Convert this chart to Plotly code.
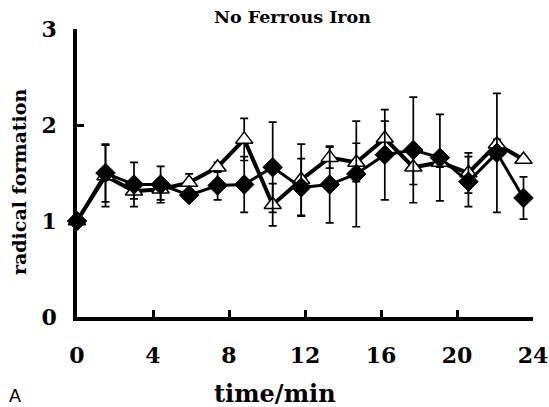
import plotly.graph_objects as go

time_min = [0, 1.5, 3.0, 4.4, 5.9, 7.4, 8.8, 10.3, 11.8, 13.3, 14.7, 16.2, 17.7, 19.1, 20.6, 22.1, 23.5]
diamond_vals = [1.00, 1.50, 1.38, 1.38, 1.27, 1.37, 1.38, 1.56, 1.35, 1.38, 1.49, 1.69, 1.74, 1.66, 1.41, 1.71, 1.24]
diamond_err = [0.00, 0.30, 0.23, 0.19, 0.05, 0.15, 0.29, 0.47, 0.30, 0.40, 0.55, 0.47, 0.55, 0.45, 0.26, 0.62, 0.22]
triangle_vals = [1.00, 1.47, 1.31, 1.33, 1.40, 1.56, 1.85, 1.17, 1.43, 1.66, 1.61, 1.86, 1.56, 1.61, 1.50, 1.80, 1.64]
triangle_err = [0.00, 0.32, 0.08, 0.11, 0.09, 0.05, 0.22, 0.22, 0.37, 0.11, 0.20, 0.18, 0.18, 0.05, 0.21, 0.05, 0.00]

x_ticks = [0, 4, 8, 12, 16, 20, 24]
y_ticks = [0, 1, 2, 3]

SERIF = "DejaVu Serif"

fig = go.Figure()
fig.add_trace(go.Scatter(
    x=time_min, y=triangle_vals, mode="lines+markers",
    line=dict(color="black", width=4),
    marker=dict(symbol="triangle-up", size=15, color="white", line=dict(color="black", width=1.5)),
    error_y=dict(type="data", array=triangle_err, visible=True, color="black", thickness=1.7, width=4),
    cliponaxis=False, showlegend=False,
))
fig.add_trace(go.Scatter(
    x=time_min, y=diamond_vals, mode="lines+markers",
    line=dict(color="black", width=3),
    marker=dict(symbol="diamond", size=15, color="black", line=dict(color="black", width=1)),
    error_y=dict(type="data", array=diamond_err, visible=True, color="black", thickness=1.7, width=4),
    cliponaxis=False, showlegend=False,
))

fig.update_layout(
    width=549, height=407,
    margin=dict(l=77, r=16, t=29, b=90, autoexpand=False),
    paper_bgcolor="white", plot_bgcolor="white",
    font=dict(family=SERIF, color="black"),
    xaxis=dict(
        range=[0, 24], tickvals=x_ticks, ticktext=[str(v) for v in x_ticks],
        showgrid=False, zeroline=False, showline=True, linecolor="black", linewidth=3.5,
        ticks="inside", ticklen=7, tickwidth=3, tickcolor="black", automargin=False,
        tickfont=dict(family=SERIF, size=22, weight="bold"), ticklabelstandoff=16,
    ),
    yaxis=dict(
        range=[0, 3], tickvals=y_ticks, ticktext=[str(v) for v in y_ticks],
        showgrid=False, zeroline=False, showline=True, linecolor="black", linewidth=3.5,
        ticks="inside", ticklen=7, tickwidth=3, tickcolor="black", automargin=False,
        tickfont=dict(family=SERIF, size=22, weight="bold"), ticklabelstandoff=12,
    ),
    annotations=[
        dict(text="<b>No Ferrous Iron</b>", xref="paper", yref="paper", x=0.472, y=1.0,
             xanchor="center", yanchor="middle", yshift=12, showarrow=False,
             font=dict(family=SERIF, size=17.5)),
        dict(text="<b>time/min</b>", xref="paper", yref="paper", x=0.434, y=0,
             xanchor="center", yanchor="middle", yshift=-76, showarrow=False,
             font=dict(family=SERIF, size=24)),
        dict(text="<b>radical formation</b>", xref="paper", yref="paper", x=0, y=0.5,
             xanchor="center", yanchor="middle", xshift=-58, yshift=-9, textangle=-90,
             showarrow=False, font=dict(family=SERIF, size=19)),
        dict(text="A", xref="paper", yref="paper", x=0, y=0, xanchor="left", yanchor="middle",
             xshift=-70, yshift=-79, showarrow=False,
             font=dict(family="Liberation Sans", size=18)),
    ],
)

fig.write_html("out.html", config={"displayModeBar": False},
               post_script="document.body.style.margin='0';document.body.style.padding='0';document.body.style.overflow='hidden';")
